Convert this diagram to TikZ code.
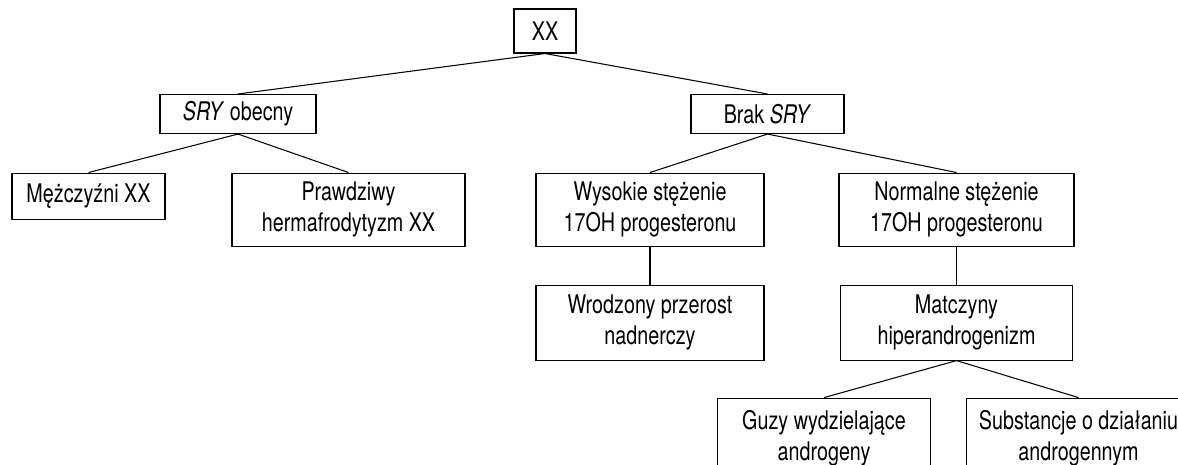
\documentclass[tikz,border=0pt]{standalone}
\usepackage{fontspec}
\setmainfont{TeX Gyre Heros}[FakeStretch=0.77]
\usepackage{tikz}
\usetikzlibrary{positioning}

\begin{document}
\begin{tikzpicture}[
		auto,
		node distance=1.5cm,
		font={\fontsize{14.6}{17.5}\selectfont},
		block/.style={
			rectangle,
			draw=black,
			line width=0.6pt,
			text centered,
			align=center,
			inner sep=0pt,
			fill=white
		},
		link/.style={
			draw=black,
			line width=0.6pt
		}
		]
		% fix the page size first
		\clip (0,0) rectangle (23.56,-9.30);
		
		% We start by placing the blocks
		\node [block, minimum width=1.24cm, minimum height=0.88cm] (xx) at (10.90,-0.62) {XX};
		
		\node [block, below of=xx, xshift=-6.14cm, yshift=0.24cm, anchor=north,
			minimum width=3.12cm, minimum height=0.78cm] (sryyes) {\textit{SRY} obecny};
		
		\node [block, below of=xx, xshift=4.45cm, yshift=0.24cm, anchor=north,
			minimum width=3.06cm, minimum height=0.78cm] (sryno) {Brak \textit{SRY}};
		
		\node [block, below of=sryyes, xshift=-2.99cm, yshift=0.33cm, anchor=north,
			minimum width=3.06cm, minimum height=0.92cm] (male) {Mężczyźni XX};
		
		\node [block, below of=sryyes, xshift=2.21cm, yshift=0.33cm, anchor=north,
			minimum width=4.66cm, minimum height=1.46cm] (herm) {Prawdziwy\\hermafrodytyzm XX};
		
		\node [block, below of=sryno, xshift=-2.35cm, yshift=0.33cm, anchor=north,
			minimum width=4.56cm, minimum height=1.46cm] (high) {Wysokie stężenie\\17OH progesteronu};
		
		\node [block, below of=sryno, xshift=3.78cm, yshift=0.33cm, anchor=north,
			minimum width=4.70cm, minimum height=1.46cm] (normal) {Normalne stężenie\\17OH progesteronu};
		
		\node [block, below of=high, anchor=north,
			minimum width=4.56cm, minimum height=1.50cm] (cah) {Wrodzony przerost\\nadnerczy};
		
		\node [block, below of=normal, anchor=north,
			minimum width=4.64cm, minimum height=1.50cm] (mother) {Matczyny\\hiperandrogenizm};
		
		\node [block, below of=mother, xshift=-2.65cm, anchor=north,
			minimum width=4.26cm, minimum height=1.60cm] (tumor) {Guzy wydzielające\\androgeny};
		
		\node [block, below of=mother, xshift=2.44cm, anchor=north,
			minimum width=4.48cm, minimum height=1.60cm] (drugs) {Substancje o działaniu\\androgennym};
		
		% connectors
		\draw [link] (xx.south) -- (sryyes.north);
		\draw [link] (xx.south) -- (sryno.north);
		\draw [link] (sryyes.south) -- (male.north);
		\draw [link] (sryyes.south) -- (herm.north);
		\draw [link] (sryno.south) -- (high.north);
		\draw [link] (sryno.south) -- (normal.north);
		\draw [link] (high) -- (cah);
		\draw [link] (normal) -- (mother);
		\draw [link] (mother.south) -- (tumor.north);
		\draw [link] (mother.south) -- (drugs.north);
		
\end{tikzpicture}
\end{document}
